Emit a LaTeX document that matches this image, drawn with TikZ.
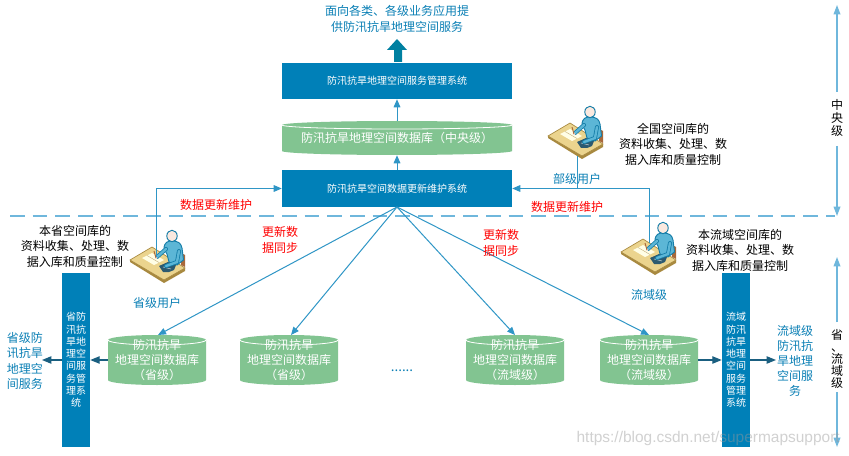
\documentclass[tikz,border=0pt]{standalone}
\usepackage{fontspec}
\setmainfont{Noto Sans CJK SC}
\newfontfamily\wmfont{Liberation Sans}
\usetikzlibrary{arrows.meta}
\definecolor{sysblue}{HTML}{0080B8}
\definecolor{lblblue}{HTML}{0A7FB5}
\definecolor{cylgreen}{HTML}{82C491}
\definecolor{linkblue}{HTML}{2F96C6}
\definecolor{dashblue}{HTML}{6FB7DC}
\definecolor{darkarrow}{HTML}{1A5F80}
\definecolor{deskfill}{HTML}{EBD48E}
\definecolor{deskedge}{HTML}{A8893F}
\definecolor{bodyfill}{HTML}{5CB6D6}
\definecolor{bodyedge}{HTML}{157DA8}
\definecolor{phonefill}{HTML}{2C5A70}
\definecolor{chairfill}{HTML}{A8683A}
\definecolor{headfill}{HTML}{FBE9DF}
\tikzset{
  x=0.75pt,y=-0.75pt,
  sysbox/.style={fill=sysblue,draw=none,inner sep=0pt,text=white,font=\fontsize{7.5}{9.2}\selectfont,align=center},
  cyltext/.style={inner sep=0pt,text=white,font=\fontsize{9}{11.6}\selectfont,align=center},
  plainlabel/.style={inner sep=0pt,text=black,font=\fontsize{9}{11.6}\selectfont,align=center},
  bluelabel/.style={inner sep=0pt,text=lblblue,font=\fontsize{9}{11.4}\selectfont,align=center},
  redlabel/.style={inner sep=0pt,text=red,font=\fontsize{9}{12}\selectfont,align=left},
  axislabel/.style={inner sep=0pt,text=black,font=\fontsize{9}{10}\selectfont,align=center},
  link/.style={draw=linkblue,line width=0.75pt,-{Triangle[length=6pt,width=5pt]}},
  linkplain/.style={draw=linkblue,line width=0.75pt},
  darklink/.style={draw=darkarrow,line width=0.8pt,-{Triangle[length=7pt,width=5.5pt]}},
  axisarrow/.style={draw=dashblue,line width=1pt,-{Triangle[length=7pt,width=5pt]}},
}
% cylinder: name, x1, y1, x2, y2, ellipse half height, text
\newcommand{\dbcyl}[7]{%
  \fill[cylgreen] (#2,#3+#6) arc[start angle=180,end angle=0,x radius={(#4-#2)/2*0.75pt},y radius={#6*0.75pt}]
     -- (#4,#5-#6) arc[start angle=0,end angle=-180,x radius={(#4-#2)/2*0.75pt},y radius={#6*0.75pt}] -- cycle;
  \draw[white,line width=0.6pt] (#2,#3+#6) arc[start angle=180,end angle=360,x radius={(#4-#2)/2*0.75pt},y radius={#6*0.75pt}];
  \node[cyltext,minimum width={(#4-#2)*0.75pt},minimum height={(#5-#3)*0.75pt}] (#1) at ({(#2+#4)/2},{(#3+#5)/2}) {#7};
}
% person at head position
\newcommand{\deskperson}[2]{%
\begin{scope}[shift={(#1,#2)}]
  % desk edge and top
  \fill[deskedge] (-42,24) -- (-8,44) -- (13,32) -- (13,35) -- (-8,47) -- (-42,26) -- cycle;
  \filldraw[fill=deskfill,draw=deskedge,line width=0.5pt] (-42,24) -- (-20,11) -- (13,32) -- (-8,44) -- cycle;
  \fill[white!90!yellow] (-30,22) -- (-20,17) -- (-8,24) -- (-18,29) -- cycle;
  \draw[deskedge!70,line width=0.3pt] (-25,19.5) -- (-13,26.5);
  % chair
  \fill[chairfill] (9,17) -- (13,19) -- (13,31) -- (9,29) -- cycle;
  % torso
  \filldraw[fill=bodyfill,draw=bodyedge,line width=0.7pt] (-8,13) .. controls (-8,6) and (-4,5) .. (0,5) .. controls (6,5) and (9,7) .. (10,12) -- (11.5,24) -- (5,29) -- (-3,26) -- (-5,18) -- cycle;
  % left arm
  \draw[bodyedge,line width=3pt,line cap=round] (-6,13) -- (-15,21);
  \draw[bodyfill,line width=1.8pt,line cap=round] (-6,13) -- (-15,21);
  \fill[headfill] (-16,22) circle[radius=1.1pt];
  \draw[chairfill,line width=0.7pt] (-16,22) -- (-18,15);
  % phone
  \fill[phonefill] (-13,30) -- (-4,26) -- (4,29) -- (2,34) -- (-3,36) -- (-9,36) -- cycle;
  \draw[white!70!phonefill,line width=0.4pt] (-9,31) -- (-1,33);
  % right arm
  \draw[bodyedge,line width=3pt,line cap=round] (7,15) -- (5,26) -- (-6,30);
  \draw[bodyfill,line width=1.8pt,line cap=round] (7,15) -- (5,26) -- (-6,30);
  % head
  \filldraw[fill=headfill,draw=bodyedge,line width=0.7pt] (0,0) ellipse[x radius=3.9pt,y radius=4.3pt];
\end{scope}
}
\begin{document}
\begin{tikzpicture}
\useasboundingbox (0,0) rectangle (849,456);
\fill[white] (0,0) rectangle (849,456);

% dashed separator
\coordinate (dashL) at (10,216);
\coordinate (dashR) at (835,216);
\draw[dashblue,line width=1.1pt,dash pattern=on 11pt off 6pt] (dashL) -- (dashR);

% top text and big arrow
\node[bluelabel] (toptext) at (397,19) {面向各类、各级业务应用提\\供防汛抗旱地理空间服务};
\fill[sysblue!75!black!80!cyan] (394,62) -- (394,50) -- (387,50) -- (397,39) -- (407,50) -- (402,50) -- (402,62) -- cycle;

% central boxes
\node[sysbox,minimum width=172.5pt,minimum height=27pt] (svc) at (397,81) {防汛抗旱地理空间服务管理系统};
\dbcyl{cdb}{282}{121}{512}{155}{4}{\fontsize{9}{11}\selectfont 防汛抗旱地理空间数据库（中央级）}
\node[sysbox,minimum width=172.5pt,minimum height=27.75pt] (upd) at (397,188.5) {防汛抗旱空间数据更新维护系统};
\draw[link] (cdb.north) -- (svc.south);
\draw[link] (upd.north) -- (cdb.south);

% lower cylinders
\dbcyl{dba}{108}{335}{206}{385}{5}{防汛抗旱\\地理空间数据库\\（省级）}
\dbcyl{dbb}{240}{335}{338}{385}{5}{防汛抗旱\\地理空间数据库\\（省级）}
\dbcyl{dbc}{466}{335}{564}{385}{5}{防汛抗旱\\地理空间数据库\\（流域级）}
\dbcyl{dbd}{600}{335}{698}{385}{5}{防汛抗旱\\地理空间数据库\\（流域级）}
\node[inner sep=0pt,text=lblblue,font=\fontsize{10}{12}\selectfont] (dots) at (402,371) {......};

% fan connectors
\coordinate (fan) at (397,207);
\coordinate (ta) at (158,335);
\coordinate (tb) at (291,335);
\coordinate (tc) at (515,335);
\coordinate (td) at (649,335);
\draw[link] (fan) -- (ta);
\draw[link] (fan) -- (tb);
\draw[link] (fan) -- (tc);
\draw[link] (fan) -- (td);

% vertical systems
\node[sysbox,minimum width=21pt,minimum height=130.5pt] (lsys) at (76,360) {省防\\汛抗\\旱地\\理空\\间服\\务管\\理系\\统};
\node[sysbox,minimum width=21pt,minimum height=130.5pt] (rsys) at (736,360) {流域\\防汛\\抗旱\\地理\\空间\\服务\\管理\\系统};

% service labels
\node[bluelabel] (lsvc) at (25,361) {省级防\\讯抗旱\\地理空\\间服务};
\node[bluelabel] (rsvc) at (795,361) {流域级\\防汛抗\\旱地理\\空间服\\务};
\coordinate (lsvcE) at (42,360);
\coordinate (rsvcW) at (776,360);
\draw[darklink] (dba.west) -- (lsys.east);
\draw[darklink] (lsys.west) -- (lsvcE);
\draw[darklink] (dbd.east) -- (rsys.west);
\draw[darklink] (rsys.east) -- (rsvcW);

% persons
\deskperson{172}{236}
\deskperson{590}{112}
\deskperson{663}{228}
\coordinate (pl) at (156.5,257);
\coordinate (pt) at (577,156);
\coordinate (pr) at (649,243);
\draw[link] (pl) |- (upd.west);
\draw[link] (pr) |- (upd.east);
\draw[linkplain] (pt) -- (577,188);

% person labels
\node[bluelabel] (ul) at (157,303) {省级用户};
\node[bluelabel] (ut) at (577,179) {部级用户};
\node[bluelabel] (ur) at (649,295) {流域级};
\node[plainlabel] (dl) at (75,246) {本省空间库的\\资料收集、处理、数\\据入库和质量控制};
\node[plainlabel] (dt) at (673,144) {全国空间库的\\资料收集、处理、数\\据入库和质量控制};
\node[plainlabel] (dr) at (740,250) {本流域空间库的\\资料收集、处理、数\\据入库和质量控制};

% red labels
\node[redlabel] (r1) at (216,205) {数据更新维护};
\node[redlabel] (r2) at (567,207) {数据更新维护};
\node[redlabel] (r3) at (280,240) {更新数\\据同步};
\node[redlabel] (r4) at (501,243) {更新数\\据同步};

% axis
\coordinate (a1) at (837,92);
\coordinate (a2) at (837,5);
\coordinate (a3) at (837,146);
\coordinate (a4) at (837,216);
\coordinate (a5) at (837,322);
\coordinate (a6) at (837,257);
\coordinate (a7) at (837,392);
\coordinate (a8) at (837,447);
\node[axislabel] (central) at (837,118) {中\\央\\级};
\node[axislabel] (prov) at (837,359) {省\\[-1pt]、\\[-1pt]流\\[-1pt]域\\[-1pt]级};
\draw[axisarrow] (a1) -- (a2);
\draw[axisarrow] (a3) -- (a4);
\draw[axisarrow] (a5) -- (a6);
\draw[axisarrow] (a7) -- (a8);

% watermark
\node[inner sep=0pt,anchor=east,text=black!40,opacity=0.45,font=\wmfont\fontsize{11.6}{13}\selectfont] (wm) at (840,438) {https://blog.csdn.net/supermapsupport};
\end{tikzpicture}
\end{document}
